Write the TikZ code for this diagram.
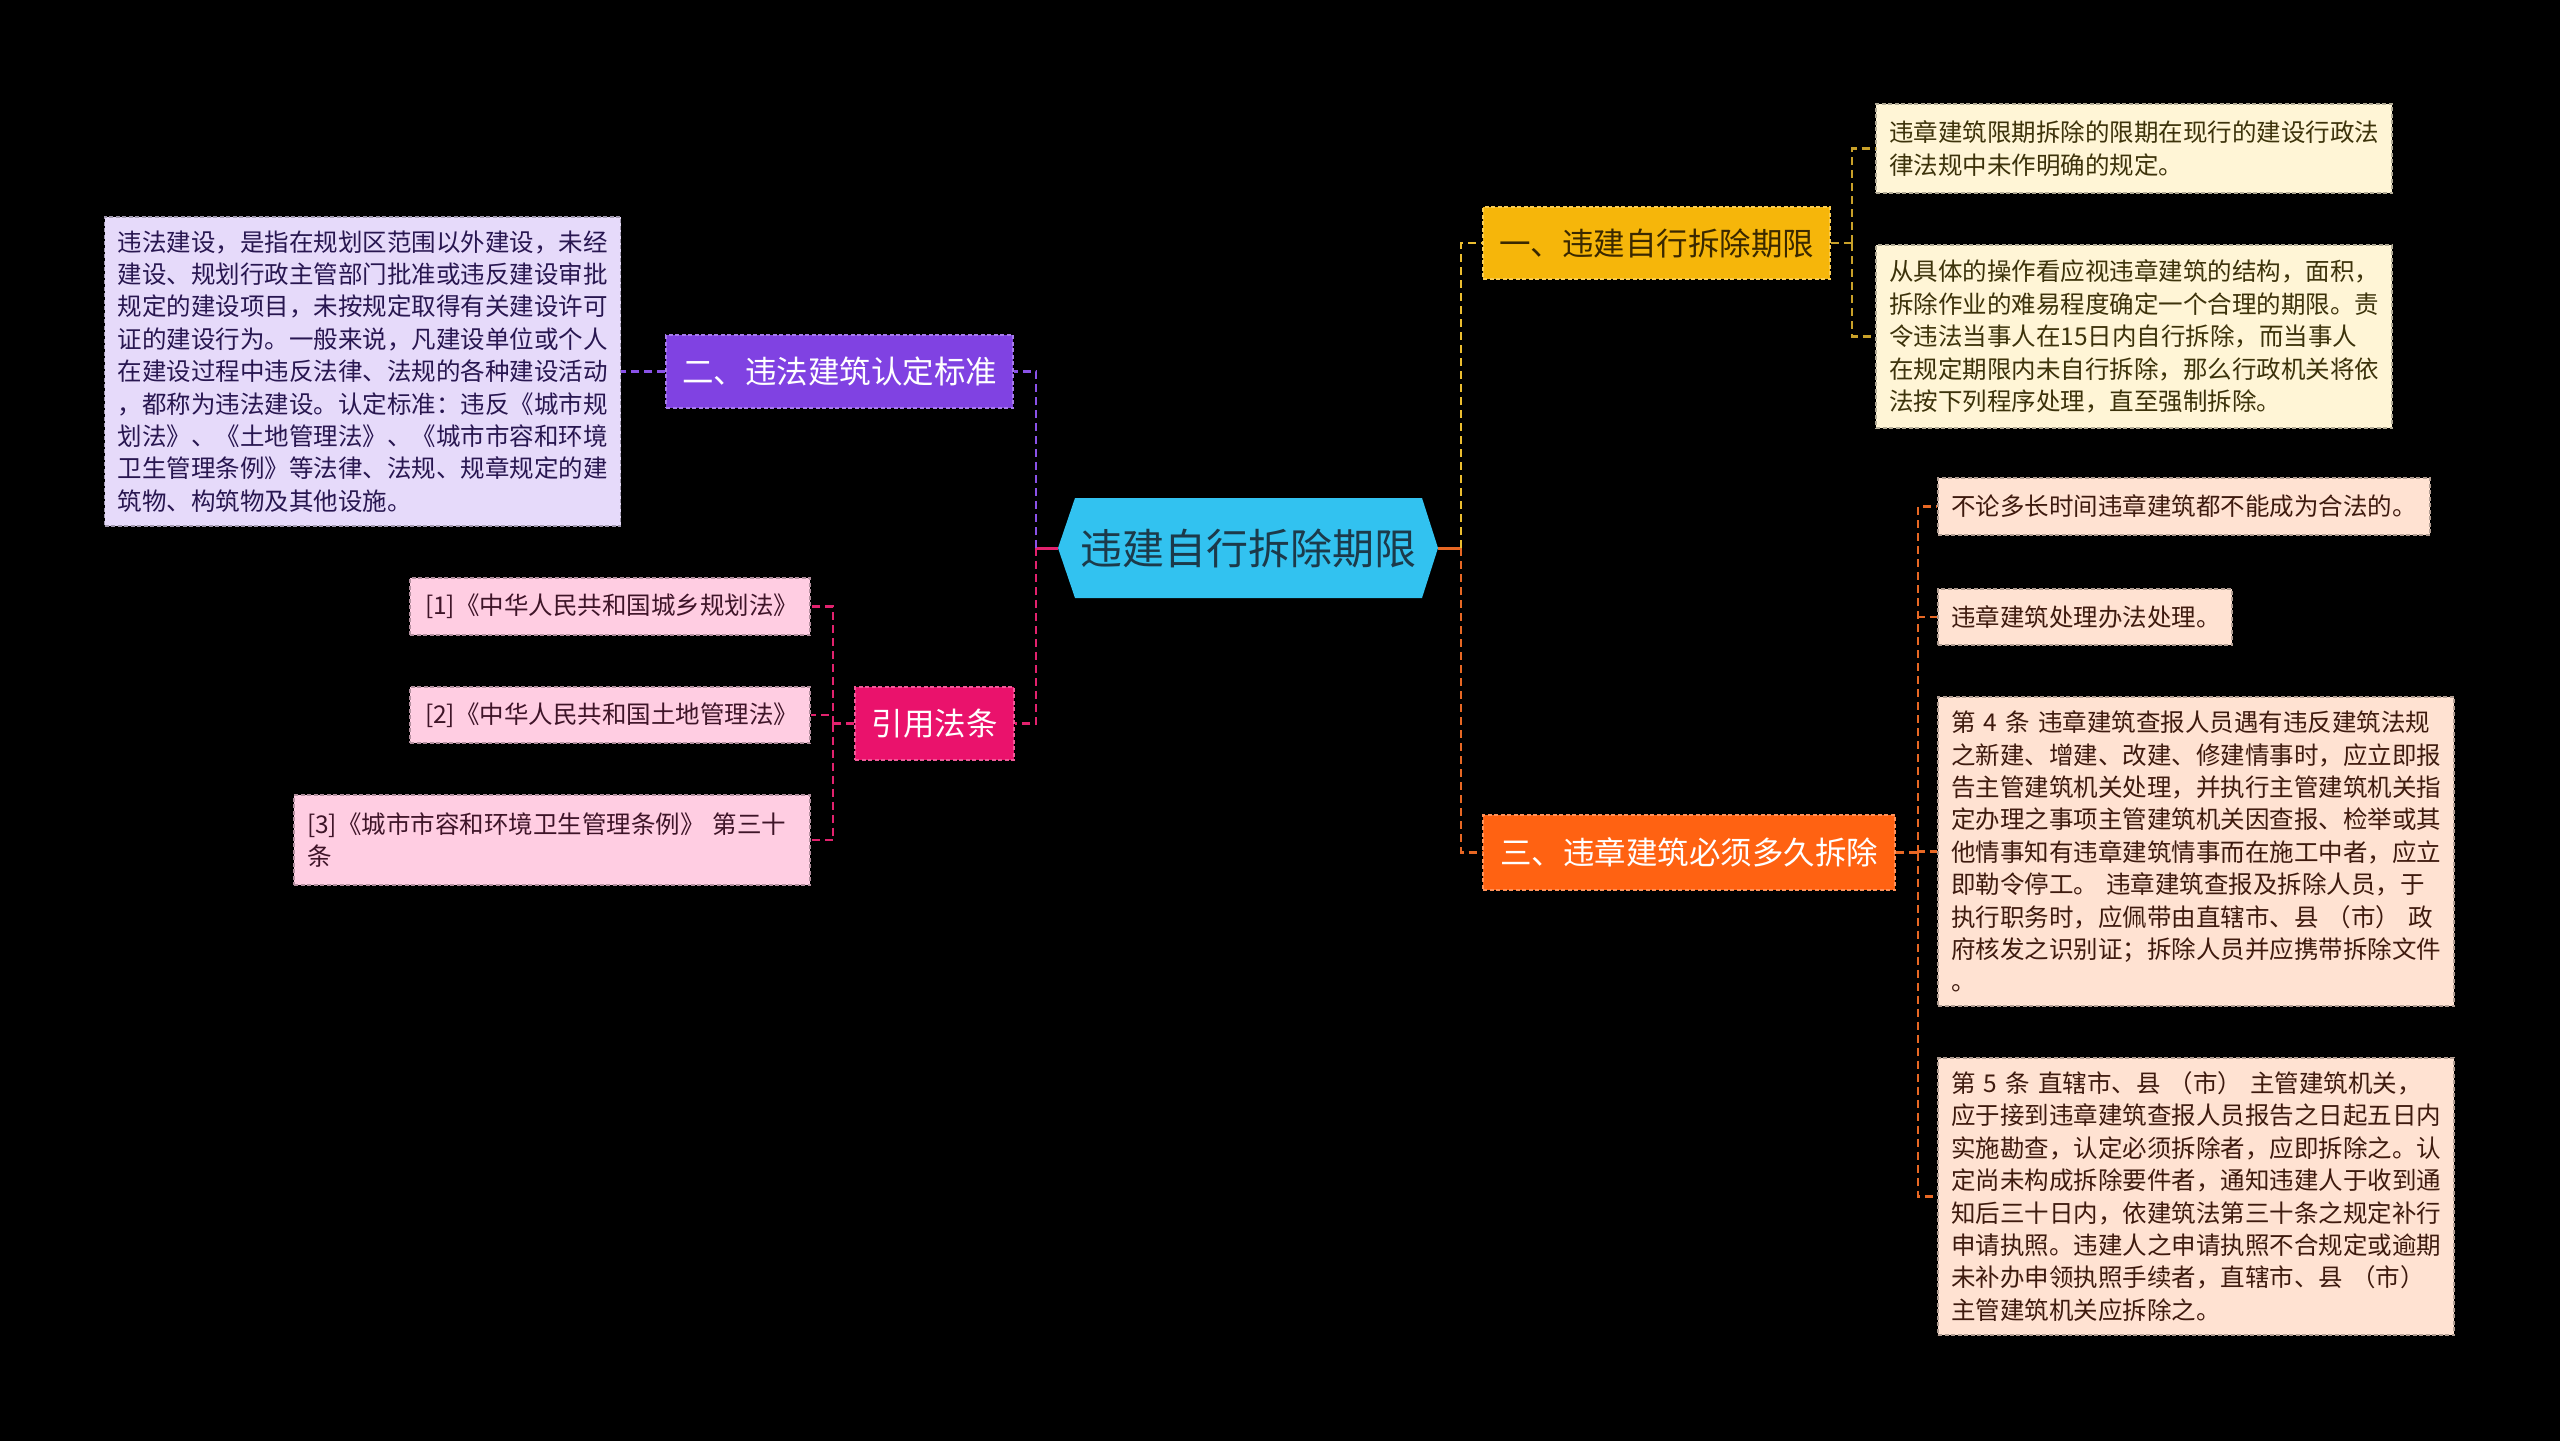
\documentclass[tikz,border=0pt]{standalone}
\usepackage{fontspec}
\setmainfont{Noto Sans CJK SC}
\definecolor{rootblue}{RGB}{50,194,240}
\definecolor{roottext}{RGB}{28,58,74}
\definecolor{byellow}{RGB}{246,182,10}
\definecolor{byellowtext}{RGB}{58,40,0}
\definecolor{bpurple}{RGB}{128,66,226}
\definecolor{bmag}{RGB}{234,18,108}
\definecolor{borange}{RGB}{255,98,18}
\definecolor{lcream}{RGB}{255,245,214}
\definecolor{lcreamtext}{RGB}{60,50,10}
\definecolor{llav}{RGB}{230,218,250}
\definecolor{llavtext}{RGB}{40,22,80}
\definecolor{lpink}{RGB}{255,205,226}
\definecolor{lpinktext}{RGB}{62,20,40}
\definecolor{lpeach}{RGB}{255,226,210}
\definecolor{lpeachtext}{RGB}{62,26,14}
\definecolor{cyellow}{RGB}{236,190,48}
\definecolor{cpurple}{RGB}{138,82,232}
\definecolor{cmag}{RGB}{226,34,110}
\definecolor{corange}{RGB}{232,104,36}
\tikzset{
  leafbox/.style={draw, dash pattern=on 4pt off 2.5pt, line width=1.5pt,
    inner xsep=13pt, inner ysep=0pt, align=left,
    font=\fontsize{24.5pt}{32.4pt}\selectfont},
  branchbox/.style={draw, dash pattern=on 4pt off 2.5pt, line width=1.5pt,
    inner sep=0pt, font=\fontsize{31.5pt}{38pt}\selectfont},
  conn/.style={line width=2.5pt, dash pattern=on 8pt off 5pt},
  solidconn/.style={line width=3pt}
}
\begin{document}
\begin{tikzpicture}[x=1pt,y=-1pt]
\useasboundingbox (0,0) rectangle (2560,1441);
\fill[black] (0,0) rectangle (2560,1441);

% root hexagon
\fill[rootblue] (1058,548) -- (1075,498) -- (1422,498) -- (1438,548) -- (1422,598) -- (1075,598) -- cycle;
\node[text=roottext, font=\fontsize{42pt}{48pt}\selectfont, inner sep=0pt] (root) at (1248,548) {违建自行拆除期限};
\coordinate (rootE) at (1438,548);
\coordinate (rootW) at (1058,548);

% branches
\node[branchbox, fill=byellow, draw=byellow!70!white, text=byellowtext, minimum width=347pt, minimum height=72pt] (b1) at (1656.5,243) {一、违建自行拆除期限};
\node[branchbox, fill=bpurple, draw=bpurple!70!white, text=white, minimum width=347pt, minimum height=73pt] (b2) at (839.5,371.5) {二、违法建筑认定标准};
\node[branchbox, fill=bmag, draw=bmag!70!white, text=white, minimum width=159pt, minimum height=73pt] (b4) at (934.5,723.5) {引用法条};
\node[branchbox, fill=borange, draw=borange!70!white, text=white, minimum width=412pt, minimum height=75pt] (b3) at (1689,852.5) {三、违章建筑必须多久拆除};

% leaves: yellow branch
\node[leafbox, fill=lcream, draw=lcream!70!black, text=lcreamtext, text width=490pt, minimum height=89pt] (y1) at (2134,148.5)
 {违章建筑限期拆除的限期在现行的建设行政法\\律法规中未作明确的规定。};
\node[leafbox, fill=lcream, draw=lcream!70!black, text=lcreamtext, text width=490pt, minimum height=183pt] (y2) at (2134,336.5)
 {从具体的操作看应视违章建筑的结构，面积，\\拆除作业的难易程度确定一个合理的期限。责\\令违法当事人在15日内自行拆除，而当事人\\在规定期限内未自行拆除，那么行政机关将依\\法按下列程序处理，直至强制拆除。};

% leaf: purple branch
\node[leafbox, fill=llav, draw=llav!70!black, text=llavtext, text width=490pt, minimum height=309pt] (l2) at (362.5,371.5)
 {违法建设，是指在规划区范围以外建设，未经\\建设、规划行政主管部门批准或违反建设审批\\规定的建设项目，未按规定取得有关建设许可\\证的建设行为。一般来说，凡建设单位或个人\\在建设过程中违反法律、法规的各种建设活动\\，都称为违法建设。认定标准：违反《城市规\\划法》、《土地管理法》、《城市市容和环境\\卫生管理条例》等法律、法规、规章规定的建\\筑物、构筑物及其他设施。};

% leaves: citations
\node[leafbox, fill=lpink, draw=lpink!70!black, text=lpinktext, inner xsep=15pt, text width=370pt, minimum height=57pt] (p1) at (610,606.5)
 {[1]《中华人民共和国城乡规划法》};
\node[leafbox, fill=lpink, draw=lpink!70!black, text=lpinktext, inner xsep=15pt, text width=370pt, minimum height=56pt] (p2) at (610,715)
 {[2]《中华人民共和国土地管理法》};
\node[leafbox, fill=lpink, draw=lpink!70!black, text=lpinktext, text width=490pt, minimum height=90pt] (p3) at (552,840)
 {[3]《城市市容和环境卫生管理条例》 第三十\\条};

% leaves: orange branch
\node[leafbox, fill=lpeach, draw=lpeach!70!black, text=lpeachtext, text width=466pt, minimum height=57pt] (oA) at (2184,506.5)
 {不论多长时间违章建筑都不能成为合法的。};
\node[leafbox, fill=lpeach, draw=lpeach!70!black, text=lpeachtext, text width=268pt, minimum height=56pt] (oB) at (2085,617)
 {违章建筑处理办法处理。};
\node[leafbox, fill=lpeach, draw=lpeach!70!black, text=lpeachtext, text width=490pt, minimum height=309pt] (oC) at (2196,851.5)
 {第 4 条 违章建筑查报人员遇有违反建筑法规\\之新建、增建、改建、修建情事时，应立即报\\告主管建筑机关处理，并执行主管建筑机关指\\定办理之事项主管建筑机关因查报、检举或其\\他情事知有违章建筑情事而在施工中者，应立\\即勒令停工。 违章建筑查报及拆除人员，于\\执行职务时，应佩带由直辖市、县 （市） 政\\府核发之识别证；拆除人员并应携带拆除文件\\。};
\node[leafbox, fill=lpeach, draw=lpeach!70!black, text=lpeachtext, text width=490pt, minimum height=277pt] (oD) at (2196,1196.5)
 {第 5 条 直辖市、县 （市） 主管建筑机关，\\应于接到违章建筑查报人员报告之日起五日内\\实施勘查，认定必须拆除者，应即拆除之。认\\定尚未构成拆除要件者，通知违建人于收到通\\知后三十日内，依建筑法第三十条之规定补行\\申请执照。违建人之申请执照不合规定或逾期\\未补办申领执照手续者，直辖市、县 （市）\\主管建筑机关应拆除之。};

% junctions
\coordinate (jR) at (1461,548);
\coordinate (jL) at (1036,548);
\coordinate (t1) at (1852,243);
\coordinate (t3) at (1918,852.5);
\coordinate (t4) at (833,723.5);

% connectors root -> branches
\draw[solidconn, corange] (rootE) -- (jR);
\draw[conn, cyellow] (jR) |- (b1.west);
\draw[conn, corange] (jR) |- (b3.west);
\draw[solidconn, cmag] (rootW) -- (jL);
\draw[conn, cpurple] (jL) |- (b2.east);
\draw[conn, cmag] (jL) |- (b4.east);

% branch -> leaves
\draw[conn, cyellow!85!black] (b1.east) -- (t1);
\draw[conn, cyellow!85!black] (t1) |- (y1.west);
\draw[conn, cyellow!85!black] (t1) |- (y2.west);
\draw[conn, cpurple] (b2.west) -- (l2.east);
\draw[conn, cmag] (b4.west) -- (t4);
\draw[conn, cmag] (t4) |- (p1.east);
\draw[conn, cmag] (t4) |- (p2.east);
\draw[conn, cmag] (t4) |- (p3.east);
\draw[conn, corange] (b3.east) -- (t3);
\draw[conn, corange] (t3) |- (oA.west);
\draw[conn, corange] (t3) |- (oB.west);
\draw[conn, corange] (t3) |- (oC.west);
\draw[conn, corange] (t3) |- (oD.west);
\end{tikzpicture}
\end{document}
